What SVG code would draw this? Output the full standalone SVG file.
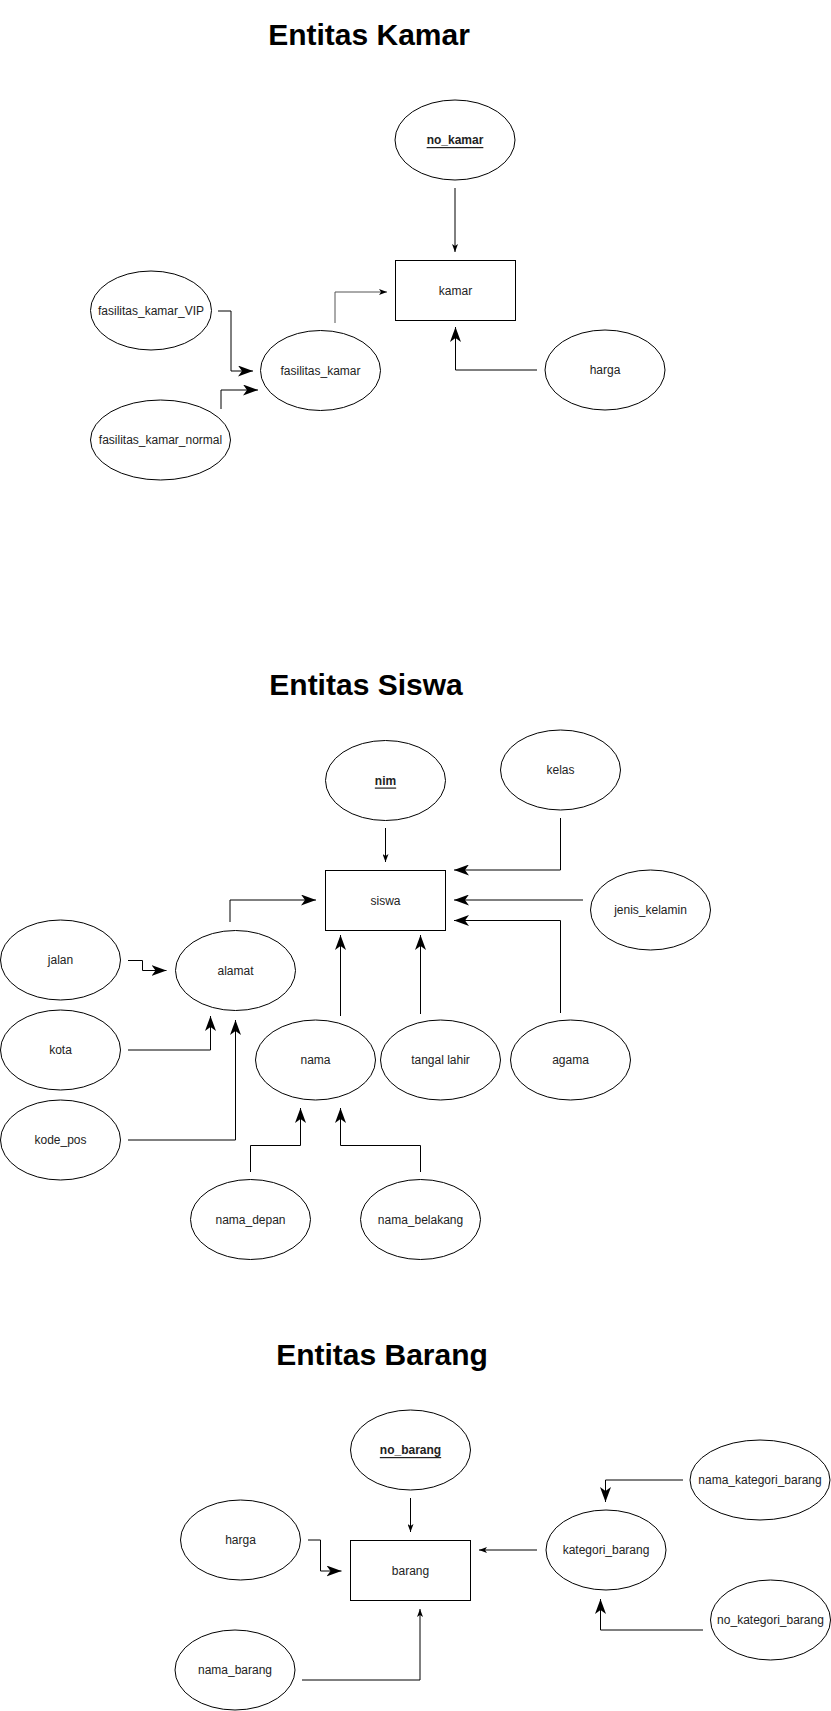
<svg xmlns="http://www.w3.org/2000/svg" width="831" height="1711" viewBox="0 0 831 1711">
<style>
.bg{fill:#ffffff}
.shape{fill:#ffffff;stroke:#000000;stroke-width:1}
.lbl{font-family:"Liberation Sans",Arial,Helvetica,sans-serif;font-size:12px;fill:#222222;text-anchor:middle;dominant-baseline:central}
.key{text-decoration:underline;font-weight:bold}
.title{font-family:"Liberation Sans",Arial,Helvetica,sans-serif;font-size:30px;font-weight:bold;fill:#000000;text-anchor:middle}
.c{fill:none;stroke:#000000;stroke-width:1}
.cb{marker-end:url(#big)}
.cs{marker-end:url(#small)}
</style>
<defs>
<marker id="big" markerUnits="userSpaceOnUse" markerWidth="15" markerHeight="11" refX="15" refY="5.5" orient="auto">
<path d="M0,0 L15,5.5 L0,11 L4,5.5 Z" fill="#000000"/>
</marker>
<marker id="small" markerUnits="userSpaceOnUse" markerWidth="8" markerHeight="6" refX="8" refY="3" orient="auto">
<path d="M0,0 L8,3 L0,6 L2,3 Z" fill="#000000"/>
</marker>
</defs>
<rect class="bg" x="0" y="0" width="831" height="1711"/>

<text class="title" x="369" y="45">Entitas Kamar</text>
<text class="title" x="366" y="695">Entitas Siswa</text>
<text class="title" x="382" y="1365">Entitas Barang</text>

<g id="connectors">
<path class="c cs" d="M455,188 L455,252"/>
<path class="c cs" style="stroke:#555555" d="M335,323 L335,292 L387,292"/>
<path class="c cb" d="M537,370 L455.5,370 L455.5,327"/>
<path class="c cb" d="M218,311 L231,311 L231,371 L253,371"/>
<path class="c cb" d="M221,409 L221,390 L258,390"/>

<path class="c cs" d="M385.5,828 L385.5,862"/>
<path class="c cb" d="M560.5,818 L560.5,870 L454,870"/>
<path class="c cb" d="M583,900 L454,900"/>
<path class="c cb" d="M560.5,1013 L560.5,920.5 L454,920.5"/>
<path class="c cb" d="M230,922 L230,900 L316,900"/>
<path class="c cb" d="M340.5,1016 L340.5,935"/>
<path class="c cb" d="M420.5,1014 L420.5,935"/>
<path class="c cb" d="M128,960.5 L142.5,960.5 L142.5,970.5 L166.5,970.5"/>
<path class="c cb" d="M128,1050 L210.5,1050 L210.5,1016"/>
<path class="c cb" d="M128,1140 L235.5,1140 L235.5,1020"/>
<path class="c cb" d="M250.5,1172 L250.5,1145.5 L300.5,1145.5 L300.5,1108"/>
<path class="c cb" d="M420.5,1172 L420.5,1145.5 L340.5,1145.5 L340.5,1108"/>

<path class="c cs" d="M410.5,1498 L410.5,1532"/>
<path class="c cb" d="M308,1540 L320.5,1540 L320.5,1571 L341.5,1571"/>
<path class="c cs" d="M302,1680 L420,1680 L420,1609"/>
<path class="c cs" d="M537,1550 L479,1550"/>
<path class="c cb" d="M683,1480 L605.5,1480 L605.5,1502"/>
<path class="c cb" d="M703,1630 L600.5,1630 L600.5,1599"/>
</g>

<g id="no_kamar"><ellipse class="shape" cx="455" cy="140" rx="60" ry="40"/><text class="lbl key" x="455" y="140">no_kamar</text></g>
<g id="kamar"><rect class="shape" x="395.5" y="260.5" width="120" height="60"/><text class="lbl" x="455.5" y="290.5">kamar</text></g>
<g id="fasilitas_kamar_VIP"><ellipse class="shape" cx="151" cy="310.5" rx="60.5" ry="39.5"/><text class="lbl" x="151" y="310.5">fasilitas_kamar_VIP</text></g>
<g id="fasilitas_kamar"><ellipse class="shape" cx="320.5" cy="370.5" rx="60" ry="40"/><text class="lbl" x="320.5" y="370.5">fasilitas_kamar</text></g>
<g id="fasilitas_kamar_normal"><ellipse class="shape" cx="160.5" cy="440" rx="70" ry="40"/><text class="lbl" x="160.5" y="440">fasilitas_kamar_normal</text></g>
<g id="harga_kamar"><ellipse class="shape" cx="605" cy="370" rx="60" ry="40"/><text class="lbl" x="605" y="370">harga</text></g>

<g id="nim"><ellipse class="shape" cx="385.5" cy="780.5" rx="60" ry="40"/><text class="lbl key" x="385.5" y="780.5">nim</text></g>
<g id="kelas"><ellipse class="shape" cx="560.5" cy="770" rx="60" ry="40"/><text class="lbl" x="560.5" y="770">kelas</text></g>
<g id="siswa"><rect class="shape" x="325.5" y="870.5" width="120" height="60"/><text class="lbl" x="385.5" y="900.5">siswa</text></g>
<g id="jenis_kelamin"><ellipse class="shape" cx="650.5" cy="910" rx="60" ry="40"/><text class="lbl" x="650.5" y="910">jenis_kelamin</text></g>
<g id="jalan"><ellipse class="shape" cx="60.5" cy="960" rx="60" ry="40"/><text class="lbl" x="60.5" y="960">jalan</text></g>
<g id="alamat"><ellipse class="shape" cx="235.5" cy="970.5" rx="60" ry="40"/><text class="lbl" x="235.5" y="970.5">alamat</text></g>
<g id="kota"><ellipse class="shape" cx="60.5" cy="1050" rx="60" ry="40"/><text class="lbl" x="60.5" y="1050">kota</text></g>
<g id="kode_pos"><ellipse class="shape" cx="60.5" cy="1140" rx="60" ry="40"/><text class="lbl" x="60.5" y="1140">kode_pos</text></g>
<g id="nama"><ellipse class="shape" cx="315.5" cy="1060" rx="60" ry="40"/><text class="lbl" x="315.5" y="1060">nama</text></g>
<g id="tangal_lahir"><ellipse class="shape" cx="440.5" cy="1060" rx="60" ry="40"/><text class="lbl" x="440.5" y="1060">tangal lahir</text></g>
<g id="agama"><ellipse class="shape" cx="570.5" cy="1060" rx="60" ry="40"/><text class="lbl" x="570.5" y="1060">agama</text></g>
<g id="nama_depan"><ellipse class="shape" cx="250.5" cy="1219.5" rx="60" ry="40"/><text class="lbl" x="250.5" y="1219.5">nama_depan</text></g>
<g id="nama_belakang"><ellipse class="shape" cx="420.5" cy="1219.5" rx="60" ry="40"/><text class="lbl" x="420.5" y="1219.5">nama_belakang</text></g>

<g id="no_barang"><ellipse class="shape" cx="410.5" cy="1450" rx="60" ry="40"/><text class="lbl key" x="410.5" y="1450">no_barang</text></g>
<g id="harga_barang"><ellipse class="shape" cx="240.5" cy="1540" rx="60" ry="40"/><text class="lbl" x="240.5" y="1540">harga</text></g>
<g id="barang"><rect class="shape" x="350.5" y="1540.5" width="120" height="60"/><text class="lbl" x="410.5" y="1570.5">barang</text></g>
<g id="nama_barang"><ellipse class="shape" cx="235" cy="1670" rx="60" ry="40"/><text class="lbl" x="235" y="1670">nama_barang</text></g>
<g id="kategori_barang"><ellipse class="shape" cx="606" cy="1550" rx="60" ry="40"/><text class="lbl" x="606" y="1550">kategori_barang</text></g>
<g id="nama_kategori_barang"><ellipse class="shape" cx="760" cy="1480" rx="70" ry="40"/><text class="lbl" x="760" y="1480">nama_kategori_barang</text></g>
<g id="no_kategori_barang"><ellipse class="shape" cx="770.5" cy="1620" rx="60" ry="40"/><text class="lbl" x="770.5" y="1620">no_kategori_barang</text></g>
</svg>
